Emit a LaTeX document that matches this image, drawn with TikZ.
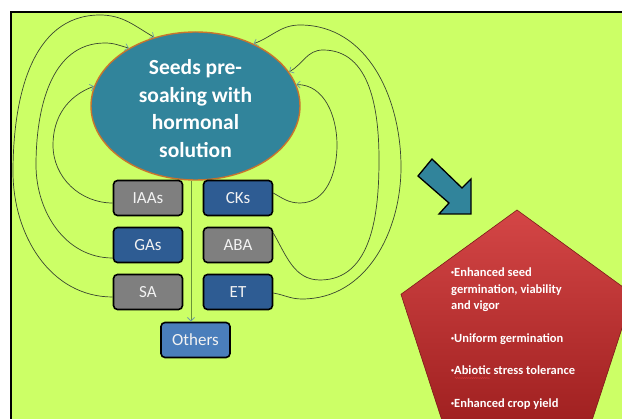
\documentclass[tikz,border=0pt]{standalone}
\usepackage{fontspec}
\setmainfont{Carlito}
\usetikzlibrary{shapes.geometric,arrows.meta,decorations.pathmorphing,calc}
\definecolor{lime}{HTML}{CCFF66}
\definecolor{tealfill}{HTML}{31849B}
\definecolor{rim}{HTML}{C8742E}
\definecolor{boxgray}{HTML}{7F7F7F}
\definecolor{boxblue}{HTML}{2E5C93}
\definecolor{boxlight}{HTML}{4A7EBB}
\definecolor{wirec}{HTML}{3A4630}
\definecolor{tipc}{HTML}{6E9EA6}
\definecolor{stemc}{HTML}{6A9438}
\definecolor{redtop}{HTML}{D44646}
\definecolor{redbot}{HTML}{9E1F1F}
\newcommand{\dotmark}{\raisebox{2.2pt}{\fontsize{6}{6}\selectfont•}}
\begin{document}
\begin{tikzpicture}[x=1pt,y=1pt,
  hbox/.style={draw=black,line width=1.6pt,rounded corners=4pt,
    minimum width=69pt,minimum height=35pt,inner sep=0pt,
    text=white!90!gray,font=\fontsize{17}{20}\selectfont},
  wire/.style={draw=wirec,line width=0.7pt,
    -{Straight Barb[length=3.5pt,width=7pt,color=tipc]}},
  stem/.style={draw=stemc,line width=1pt,
    -{Straight Barb[length=3.5pt,width=7pt,color=tipc]}}]
\useasboundingbox (0,0) rectangle (622,-419);
\clip (0,0) rectangle (622,-419);

% page and slide area
\fill[white] (0,0) rectangle (622,-419);
\fill[lime] (11,-12) rectangle (622,-419);
\draw[line width=1.3pt] (11,-420) -- (11,-12) -- (623,-12);

% central ellipse (the strut in the first line lowers the text block a little)
\node[ellipse,fill=tealfill,draw=rim,line width=1.4pt,
  minimum width=209pt,minimum height=148pt,inner sep=0pt,
  text=white,align=center,font=\bfseries\fontsize{21.5}{27.5}\selectfont]
  (title) at (195.5,-106) {\rule{0pt}{20pt}Seeds pre-\\soaking with\\hormonal\\solution};

% hormone boxes
\node[hbox,fill=boxgray] (iaas) at (148,-198) {IAAs};
\node[hbox,fill=boxblue] (cks)  at (238,-198) {CKs};
\node[hbox,fill=boxblue] (gas)  at (148,-245) {GAs};
\node[hbox,fill=boxgray] (aba)  at (238,-245) {ABA};
\node[hbox,fill=boxgray] (sa)   at (148,-292) {SA};
\node[hbox,fill=boxblue] (et)   at (238,-292) {ET};
\node[hbox,fill=boxlight] (others) at (195.5,-340) {Others};

% stem to the last box
\draw[stem] ([xshift=-4.5pt]title.south) -- ([xshift=-4.5pt]others.north);

% loops on the left
\draw[wire] ([yshift=-5pt]iaas.west) to[out=180,in=-90] (53,-145)
  to[out=90,in=200] (title.169);
\draw[wire] ([yshift=-13pt]gas.west) to[out=180,in=-90] (36,-165)
  to[out=90,in=180] (105,-43) to[out=0,in=165] (title.139);
\draw[wire] ([yshift=-5pt]sa.west) to[out=180,in=-90] (13,-172)
  to[out=90,in=180] (100,-15) to[out=0,in=150] (title.121);

% loops on the right
\draw[wire] ([yshift=5pt]cks.east) to[out=-30,in=180] (300,-203)
  to[out=0,in=-90] (337,-145) to[out=90,in=0] (title.12);
\draw[wire] ([yshift=12pt]aba.east) to[out=-60,in=180] (320,-280)
  to[out=0,in=-90] (379,-160) to[out=90,in=0] (323,-50)
  to[out=180,in=30] (title.20);
\draw[wire] ([yshift=-1pt]et.east) to[out=-10,in=180] (302,-299)
  to[out=0,in=-90] (401,-167) to[out=90,in=0] (300,-25)
  to[out=180,in=20] (title.47);

% block arrow
\draw[fill=tealfill,line width=1.3pt,line join=miter]
  (418,-176) -- (432,-159) -- (462,-188) -- (471,-179) -- (471,-214)
  -- (439,-214) -- (449,-203) -- cycle;

% outcome pentagon
\node[regular polygon,regular polygon sides=5,minimum size=244pt,inner sep=0pt,
  top color=redtop,bottom color=redbot,draw=redbot!80!black,line width=0.6pt]
  (outcome) at (517,-332) {};
\node[anchor=north west,inner sep=0pt,align=left,text=white,
  font=\bfseries\fontsize{12.5}{16.5}\selectfont] (effects) at (451,-268)
  {\dotmark Enhanced seed\\germination, viability\\and vigor\\[16pt]%
   \dotmark Uniform germination\\[16pt]\dotmark Abiotic stress tolerance\\[16pt]%
   \dotmark Enhanced crop yield};
\draw[red!70!white,opacity=0.7,line width=0.3pt,decorate,
  decoration={snake,amplitude=0.5pt,segment length=1.8pt}]
  (455,-378) -- (490,-378);
\end{tikzpicture}
\end{document}
